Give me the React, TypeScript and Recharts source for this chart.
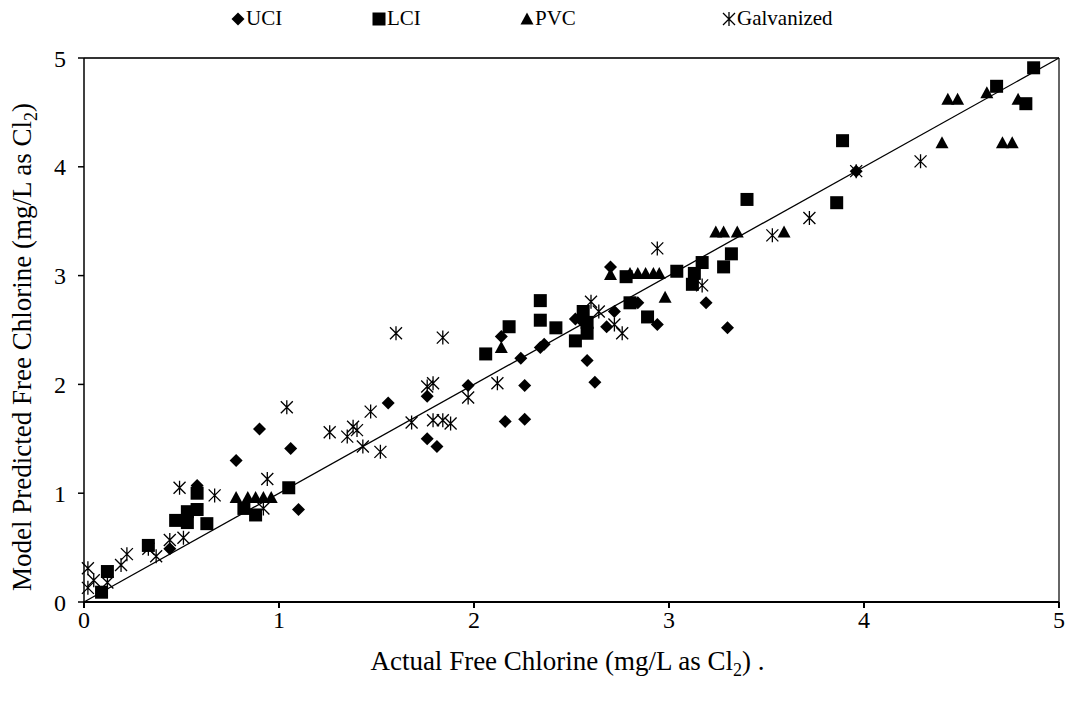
import React from "react";
import {
    ReferenceLine,
    Scatter,
    ScatterChart,
    XAxis,
    YAxis,
} from "recharts";

// actual vs model predicted free chlorine, mg/L as Cl2
const uciActual = [0.44, 0.58, 0.78, 0.9, 1.06, 1.1, 1.56, 1.76, 1.76, 1.81, 1.97, 2.14, 2.16, 2.24, 2.26, 2.26, 2.34, 2.36, 2.52, 2.56, 2.58, 2.62, 2.68, 2.72, 2.7, 2.84, 2.94, 3.19, 3.3, 3.96];
const uciModel = [0.49, 1.07, 1.3, 1.59, 1.41, 0.85, 1.83, 1.89, 1.5, 1.43, 1.99, 2.44, 1.66, 2.24, 1.99, 1.68, 2.34, 2.37, 2.6, 2.57, 2.22, 2.02, 2.53, 2.67, 3.08, 2.75, 2.55, 2.75, 2.52, 3.96];

const lciActual = [0.09, 0.12, 0.33, 0.47, 0.53, 0.53, 0.58, 0.58, 0.63, 0.82, 0.88, 1.05, 2.06, 2.18, 2.34, 2.34, 2.42, 2.52, 2.56, 2.58, 2.58, 2.78, 2.8, 2.89, 3.04, 3.12, 3.13, 3.17, 3.28, 3.32, 3.4, 3.86, 3.89, 4.68, 4.83, 4.87];
const lciModel = [0.09, 0.28, 0.52, 0.75, 0.83, 0.73, 0.85, 1.0, 0.72, 0.86, 0.8, 1.05, 2.28, 2.53, 2.77, 2.59, 2.52, 2.4, 2.67, 2.57, 2.47, 2.99, 2.75, 2.62, 3.04, 2.92, 3.02, 3.12, 3.08, 3.2, 3.7, 3.67, 4.24, 4.74, 4.58, 4.91];

const pvcActual = [0.78, 0.84, 0.88, 0.92, 0.96, 2.14, 2.7, 2.8, 2.84, 2.88, 2.92, 2.95, 2.98, 3.24, 3.28, 3.35, 3.59, 4.4, 4.43, 4.48, 4.63, 4.79, 4.71, 4.76];
const pvcModel = [0.96, 0.96, 0.96, 0.96, 0.96, 2.34, 3.01, 3.02, 3.02, 3.02, 3.02, 3.02, 2.8, 3.4, 3.4, 3.4, 3.4, 4.22, 4.62, 4.62, 4.68, 4.62, 4.22, 4.22];

const galvActual = [0.02, 0.02, 0.05, 0.12, 0.19, 0.22, 0.33, 0.37, 0.44, 0.51, 0.49, 0.67, 0.92, 0.94, 1.04, 1.26, 1.35, 1.38, 1.4, 1.43, 1.47, 1.52, 1.6, 1.68, 1.76, 1.79, 1.79, 1.84, 1.88, 1.84, 1.97, 2.12, 2.6, 2.64, 2.72, 2.76, 2.94, 3.17, 3.53, 3.72, 3.96, 4.29];
const galvModel = [0.31, 0.13, 0.2, 0.18, 0.34, 0.44, 0.49, 0.42, 0.57, 0.59, 1.05, 0.98, 0.86, 1.13, 1.79, 1.56, 1.52, 1.61, 1.58, 1.43, 1.75, 1.38, 2.47, 1.65, 1.98, 2.01, 1.67, 1.67, 1.64, 2.43, 1.88, 2.01, 2.76, 2.67, 2.55, 2.47, 3.25, 2.91, 3.37, 3.53, 3.96, 4.05];

const axisTicks = [0, 1, 2, 3, 4, 5];
const seriesNames = ["UCI", "LCI", "PVC", "Galvanized"];

const zip = (xs: number[], ys: number[]) => xs.map((x, i) => ({ x, y: ys[i] }));

const FONT = "'Liberation Serif', 'Times New Roman', serif";

const Diamond = (p: any) => {
    const { cx, cy } = p;
    const r = 6.5;
    return <path d={`M${cx},${cy - r}L${cx + r},${cy}L${cx},${cy + r}L${cx - r},${cy}Z`} fill="#000" />;
};
const Square = (p: any) => <rect x={p.cx - 6.5} y={p.cy - 6.5} width={13} height={13} fill="#000" />;
const Triangle = (p: any) => {
    const { cx, cy } = p;
    return <path d={`M${cx},${cy - 6.5}L${cx + 6.5},${cy + 5.5}L${cx - 6.5},${cy + 5.5}Z`} fill="#000" />;
};
const Star = (p: any) => {
    const { cx, cy } = p;
    return (
        <path
            d={`M${cx},${cy - 7}L${cx},${cy + 7}M${cx - 6},${cy - 6}L${cx + 6},${cy + 6}M${cx + 6},${cy - 6}L${cx - 6},${cy + 6}`}
            stroke="#000"
            strokeWidth={1.3}
            fill="none"
        />
    );
};

const shapes = [Diamond, Square, Triangle, Star];
const legendWidths = [141, 148, 202, 150];

const XTitle = ({ viewBox }: any) => {
    const cx = viewBox.x + viewBox.width / 2 - 4;
    return (
        <text x={cx} y={viewBox.y + 68} textAnchor="middle" fontFamily={FONT} fontSize={27} fill="#000">
            Actual Free Chlorine (mg/L as Cl
            <tspan fontSize={18} dy={6}>2</tspan>
            <tspan dy={-6}>)  .</tspan>
        </text>
    );
};

const YTitle = () => (
    <text
        x={0}
        y={0}
        transform="translate(31, 347) rotate(-90)"
        textAnchor="middle"
        fontFamily={FONT}
        fontSize={27}
        fill="#000"
    >
        Model Predicted Free Chlorine (mg/L as Cl
        <tspan fontSize={18} dy={6}>2</tspan>
        <tspan dy={-6}>)</tspan>
    </text>
);

export default function App() {
    const series = [
        zip(uciActual, uciModel),
        zip(lciActual, lciModel),
        zip(pvcActual, pvcModel),
        zip(galvActual, galvModel),
    ];
    return (
        <div style={{ position: "absolute", left: 0, top: 0, width: 1065, height: 702, background: "#fff" }}>
            <div
                style={{
                    position: "absolute",
                    top: 6,
                    left: 231,
                    display: "flex",
                    fontFamily: FONT,
                    fontSize: 21,
                    color: "#000",
                }}
            >
                {seriesNames.map((name, i) => {
                    const Shape = shapes[i];
                    return (
                        <div key={name} style={{ width: legendWidths[i], display: "flex", alignItems: "center" }}>
                            <svg width={14} height={16}>
                                <Shape cx={7} cy={8} />
                            </svg>
                            <span style={{ marginLeft: 1 }}>{name}</span>
                        </div>
                    );
                })}
            </div>
            <ScatterChart width={1065} height={702} margin={{ top: 58, right: 6, bottom: 60, left: 34 }}>
                <XAxis
                    type="number"
                    dataKey="x"
                    domain={[0, 5]}
                    ticks={axisTicks}
                    height={40}
                    stroke="#000"
                    strokeWidth={2}
                    tickSize={6}
                    tickMargin={3}
                    tick={{ fill: "#000", fontSize: 24, fontFamily: FONT }}
                    label={<XTitle />}
                />
                <YAxis
                    type="number"
                    dataKey="y"
                    domain={[0, 5]}
                    ticks={axisTicks}
                    width={50}
                    stroke="#000"
                    strokeWidth={1.5}
                    tickSize={6}
                    tickMargin={12}
                    tick={{ fill: "#000", fontSize: 24, fontFamily: FONT }}
                    label={<YTitle />}
                />
                <ReferenceLine y={5} stroke="#333" strokeWidth={2} />
                <ReferenceLine x={5} stroke="#333" strokeWidth={1.5} />
                <ReferenceLine
                    segment={[
                        { x: 0, y: 0 },
                        { x: 5, y: 5 },
                    ]}
                    stroke="#000"
                    strokeWidth={1.3}
                />
                {series.map((data, i) => (
                    <Scatter
                        key={seriesNames[i]}
                        name={seriesNames[i]}
                        data={data}
                        shape={shapes[i]}
                        isAnimationActive={false}
                    />
                ))}
            </ScatterChart>
        </div>
    );
}
